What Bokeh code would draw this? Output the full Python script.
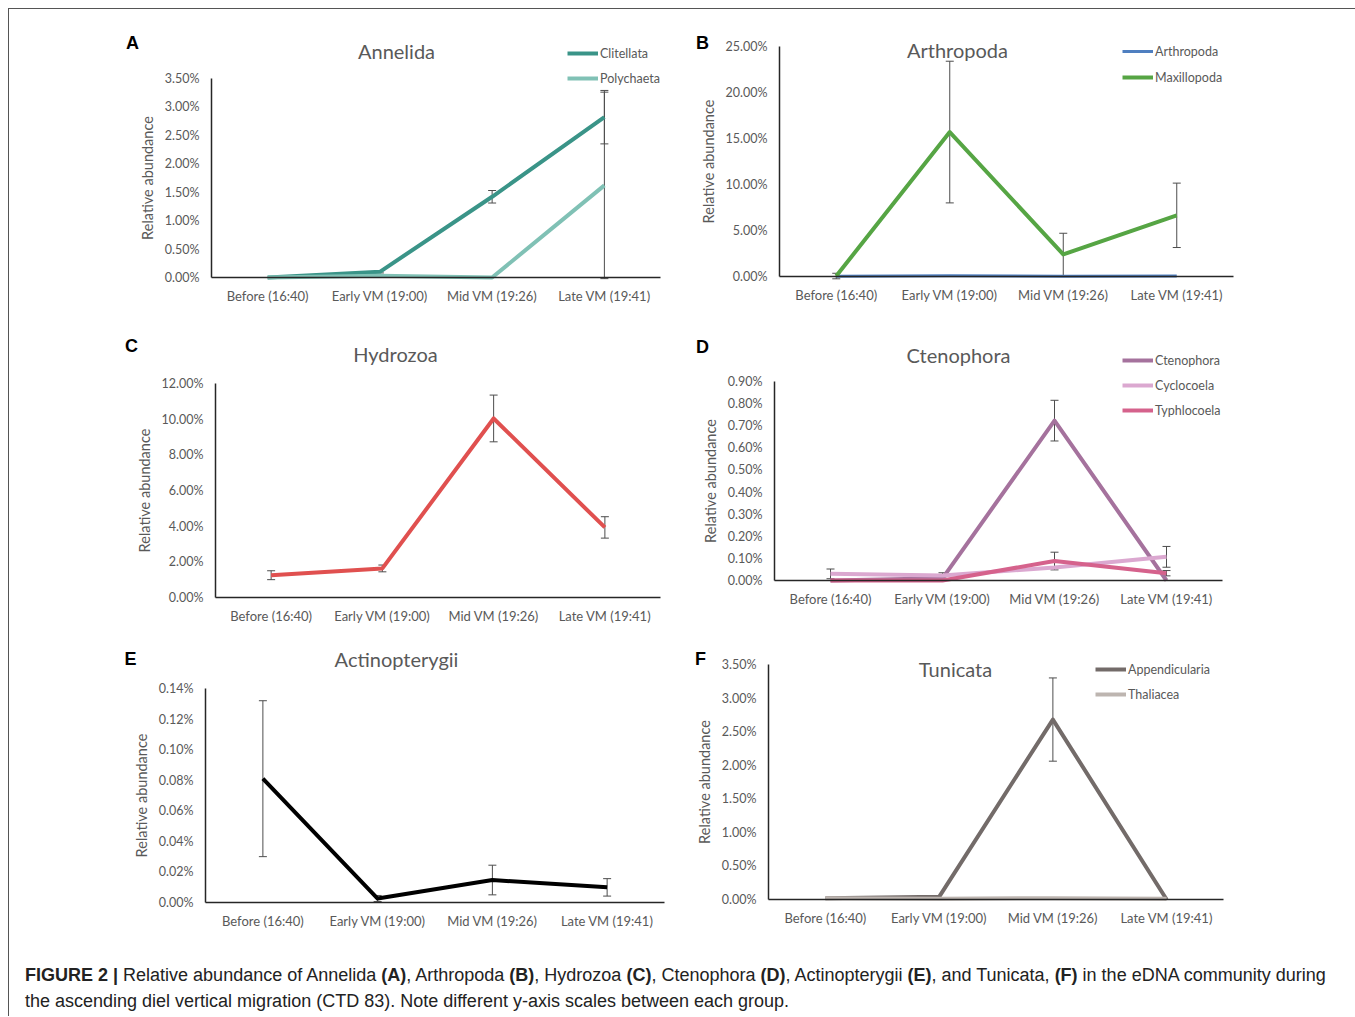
import numpy as np
from bokeh.plotting import figure
from bokeh.models import (Range1d, FixedTicker, NumeralTickFormatter,
                          ColumnDataSource, Whisker, TeeHead, Legend, LegendItem, Label, Div)
from bokeh.layouts import column, row
from bokeh.embed import file_html
from bokeh.resources import INLINE

categories = ["Before (16:40)", "Early VM (19:00)", "Mid VM (19:26)", "Late VM (19:41)"]

# ---- values in percent ----
# A  Annelida
clitellata = [0.00, 0.10, 1.42, 2.82]
clitellata_err = [0.0, 0.02, 0.11, 0.47]
polychaeta = [0.00, 0.03, 0.00, 1.62]
polychaeta_err = [0.0, 0.0, 0.0, 1.64]
# B  Arthropoda
arthropoda = [0.02, 0.08, 0.02, 0.06]
arthropoda_err = [0.0, 0.0, 0.0, 0.0]
maxillopoda = [0.05, 15.7, 2.4, 6.65]
maxillopoda_err = [0.3, 7.7, 2.3, 3.5]
# C  Hydrozoa
hydrozoa = [1.25, 1.63, 10.04, 3.93]
hydrozoa_err = [0.25, 0.19, 1.31, 0.60]
# D  Ctenophora
ctenophora = [0.000, 0.010, 0.723, 0.000]
ctenophora_err = [0.0, 0.0, 0.092, 0.0]
cyclocoela = [0.030, 0.023, 0.059, 0.107]
cyclocoela_err = [0.022, 0.012, 0.0, 0.047]
typhlocoela = [0.000, 0.000, 0.088, 0.033]
typhlocoela_err = [0.0, 0.0, 0.040, 0.012]
# E  Actinopterygii
actinopterygii = [0.081, 0.0026, 0.0147, 0.0099]
actinopterygii_err = [0.051, 0.002, 0.0097, 0.0057]
# F  Tunicata
appendicularia = [0.02, 0.04, 2.68, 0.00]
appendicularia_err = [0.0, 0.0, 0.62, 0.0]
thaliacea = [0.02, 0.01, 0.02, 0.01]
thaliacea_err = [0.0, 0.0, 0.0, 0.0]

FONT = "Lato"
GRAY = "#595959"
ERR = "#4d4d4d"
xpos = [i + 0.5 for i in range(len(categories))]


def panel(box, frame, ymax, ystep, series, letter, letter_at, title, title_at, legend=None):
    X0, X1, Y0, Y1 = box
    Lx, Rx, By, Ty = frame
    n = len(categories)
    s = (Rx - Lx) / n
    t = (By - Ty) / ymax
    xr = Range1d(-(Lx - X0) / s, n + (X1 - Rx) / s)
    yr = Range1d(-(Y1 - By) / t, ymax + (Ty - Y0) / t)
    p = figure(width=X1 - X0, height=Y1 - Y0, x_range=xr, y_range=yr,
               output_backend="svg", toolbar_location=None, min_border=0)
    p.title.visible = False
    p.outline_line_color = None
    p.grid.visible = False
    p.background_fill_color = "white"
    p.border_fill_color = "white"

    def to_data(ax, ay):
        return (ax - Lx) / s, (By - ay) / t

    xax = p.xaxis[0]
    yax = p.yaxis[0]
    xax.fixed_location = 0
    yax.fixed_location = 0
    xax.bounds = (0, n)
    yax.bounds = (0, ymax)
    xax.ticker = FixedTicker(ticks=xpos)
    xax.major_label_overrides = {x: c for x, c in zip(xpos, categories)}
    yax.ticker = FixedTicker(ticks=[round(v, 7) for v in np.arange(0, ymax + ystep / 2, ystep)])
    yax.formatter = NumeralTickFormatter(format="0.00%")
    yax.axis_label = "Relative abundance"
    yax.axis_label_text_font = FONT
    yax.axis_label_text_font_size = "14.5px"
    yax.axis_label_text_font_style = "normal"
    yax.axis_label_text_color = GRAY
    yax.axis_label_standoff = 6
    for ax in (xax, yax):
        ax.axis_line_color = "#262626"
        ax.axis_line_width = 1.5
        ax.major_tick_line_color = None
        ax.minor_tick_line_color = None
        ax.major_tick_out = 0
        ax.major_tick_in = 0
        ax.major_label_text_font = FONT
        ax.major_label_text_color = GRAY
    xax.major_label_text_font_size = "13px"
    yax.major_label_text_font_size = "12.5px"
    xax.major_label_standoff = 10
    yax.major_label_standoff = 12

    rends = []
    for name, vals, errs, color, lw in series:
        v = [x / 100 for x in vals]
        r = p.line(xpos, v, line_color=color, line_width=lw, line_join="round")
        rends.append((name, r))
    for name, vals, errs, color, lw in series:
        xs, lo, hi = [], [], []
        for c, x, e in zip(xpos, vals, errs):
            if e > 0:
                xs.append(c)
                lo.append((x - e) / 100)
                hi.append((x + e) / 100)
        if xs:
            src = ColumnDataSource(dict(x=xs, lower=lo, upper=hi))
            w = Whisker(base="x", lower="lower", upper="upper", source=src,
                        dimension="height", line_color=ERR, line_width=1,
                        upper_head=TeeHead(size=8, line_color=ERR, line_width=1),
                        lower_head=TeeHead(size=8, line_color=ERR, line_width=1))
            p.add_layout(w)

    if legend is not None:
        gx, gy, spacing = legend
        k = len(rends)
        top = gy - 10
        bottom = top + k * 20 + (k - 1) * spacing
        items = [LegendItem(label=nm, renderers=[r]) for nm, r in rends]
        lg = Legend(items=items, location=(gx - X0, Y1 - bottom), orientation="vertical",
                    border_line_color=None, background_fill_alpha=0, padding=0,
                    spacing=spacing, glyph_width=31, glyph_height=20, label_height=20,
                    label_standoff=2, label_text_font=FONT, label_text_font_size="12.5px",
                    label_text_color=GRAY, margin=0)
        p.add_layout(lg)

    lx, ly = to_data(*letter_at)
    p.add_layout(Label(x=lx, y=ly, text=letter, text_align="center", text_baseline="middle",
                       text_font="Liberation Sans", text_font_style="bold",
                       text_font_size="18px", text_color="black"))
    tx, ty = to_data(*title_at)
    p.add_layout(Label(x=tx, y=ty, text=title, text_align="center", text_baseline="middle",
                       text_font=FONT, text_font_size="20px", text_color=GRAY))
    return p


LEFT = (9, 680)
RIGHT = (680, 1355)
R1 = (9, 322)
R2 = (322, 636)
R3 = (636, 940)

pA = panel(LEFT + R1, (211, 660, 277, 78), 0.035, 0.005,
           [("Clitellata", clitellata, clitellata_err, "#3a9488", 4),
            ("Polychaeta", polychaeta, polychaeta_err, "#80c1b5", 4)],
           "A", (132, 42), "Annelida", (396, 50), legend=(567, 53, 5))
pB = panel(RIGHT + R1, (779, 1233, 276, 46), 0.25, 0.05,
           [("Arthropoda", arthropoda, arthropoda_err, "#4f7fc0", 3),
            ("Maxillopoda", maxillopoda, maxillopoda_err, "#56a544", 4)],
           "B", (702, 42), "Arthropoda", (957, 49), legend=(1122, 51, 6))
pC = panel(LEFT + R2, (215, 660, 597, 383), 0.12, 0.02,
           [("Hydrozoa", hydrozoa, hydrozoa_err, "#e0504f", 4)],
           "C", (131, 345), "Hydrozoa", (395, 353))
pD = panel(RIGHT + R2, (774, 1222, 580, 381), 0.009, 0.001,
           [("Ctenophora", ctenophora, ctenophora_err, "#a5729d", 4),
            ("Cyclocoela", cyclocoela, cyclocoela_err, "#dba8d0", 4),
            ("Typhlocoela", typhlocoela, typhlocoela_err, "#d5628c", 4)],
           "D", (702, 346), "Ctenophora", (958, 354), legend=(1122, 360, 5))
pE = panel(LEFT + R3, (205, 664, 902, 688), 0.0014, 0.0002,
           [("Actinopterygii", actinopterygii, actinopterygii_err, "#000000", 4)],
           "E", (130, 658), "Actinopterygii", (396, 658))
pF = panel(RIGHT + R3, (768, 1223, 899, 664), 0.035, 0.005,
           [("Appendicularia", appendicularia, appendicularia_err, "#736b69", 4),
            ("Thaliacea", thaliacea, thaliacea_err, "#bdb5b0", 4)],
           "F", (700, 658), "Tunicata", (955, 668), legend=(1095, 669, 5))

caption_text = ("<b>FIGURE 2 |</b> Relative abundance of Annelida <b>(A)</b>, Arthropoda <b>(B)</b>, "
                "Hydrozoa <b>(C)</b>, Ctenophora <b>(D)</b>, Actinopterygii <b>(E)</b>, and Tunicata, "
                "<b>(F)</b> in the eDNA community during<br>the ascending diel vertical migration "
                "(CTD 83). Note different y-axis scales between each group.")
caption = Div(text=caption_text, width=1346, height=76, margin=0,
              styles={"font-family": "'Liberation Sans', Arial, sans-serif",
                      "font-size": "18px", "line-height": "26px", "color": "#222222",
                      "padding-left": "16px", "padding-top": "22px",
                      "white-space": "nowrap", "overflow": "hidden",
                      "box-sizing": "border-box"})

layout = column(row(pA, pB), row(pC, pD), row(pE, pF), caption, margin=(8, 0, 0, 8),
                styles={"border-top": "1px solid #555555", "border-left": "1px solid #555555"})

open("out.html", "w").write(file_html(layout, INLINE))
